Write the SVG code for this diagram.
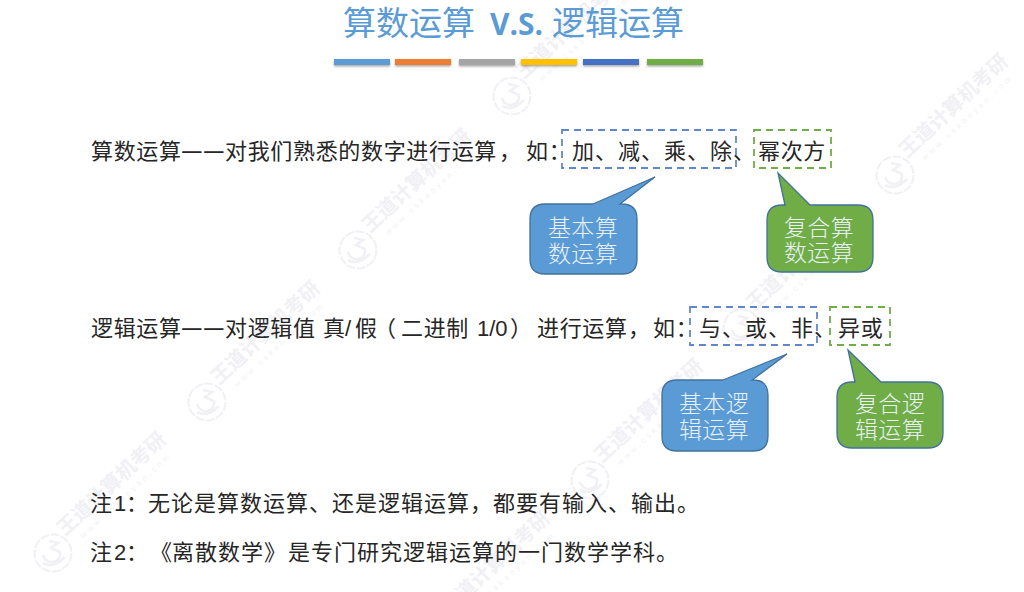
<svg xmlns="http://www.w3.org/2000/svg" width="1024" height="592" viewBox="0 0 1024 592">
<style>
text{font-family:"Noto Sans CJK SC","Noto Sans",sans-serif;text-spacing-trim:space-all;font-feature-settings:"palt" 0}
.t{font-size:22px;fill:#262626;letter-spacing:.67px}
.n{font-size:22px;fill:#262626;letter-spacing:1px}
.d{font-size:24px;font-weight:500;letter-spacing:0}
.l{font-family:"Liberation Sans",sans-serif;letter-spacing:0}
.c{font-size:23px;fill:#e8f1f8;text-anchor:middle;letter-spacing:.3px;font-weight:300}
.h{font-size:33px;fill:#5b9bd5}
.wm{font-size:20px;font-weight:700;fill:#f0f0f5}
.wu{font-size:8px;fill:#f2f2f6;letter-spacing:3.2px;font-family:"Liberation Sans",sans-serif}
.ws{fill:none;stroke:#f0f0f5}
.bl{fill:none;stroke:#4472c4;stroke-width:1.8;stroke-dasharray:7 5;stroke-opacity:.85}
.gr{fill:none;stroke:#70ad47;stroke-width:1.8;stroke-dasharray:7 5}
.cb{fill:#5b9bd5;stroke:#41719c;stroke-width:1.3}
.cg{fill:#70ad47;stroke:#41719c;stroke-width:1.3}
</style>
<defs>
<g id="mark">
<circle class="ws" r="18.5" stroke-width="2" stroke-dasharray="9 1.5"/>
<path class="ws" d="M-4-12L5-10L-2-5L7-1Q8 8-1 9Q-8 9-10 2M-10 10Q0 16 12 4" stroke-width="2.5"/>
<g transform="rotate(-43)"><text class="wm" x="20" y="-4">王道计算机考研</text><text class="wu" x="32" y="10">www.cskaoyan.com</text></g>
</g>
<filter id="sh" x="-5%" y="-50%" width="110%" height="250%"><feDropShadow dx="0" dy="1.5" stdDeviation="1" flood-color="#000" flood-opacity=".35"/></filter>
</defs>
<rect width="1024" height="592" fill="#fff"/>
<g id="watermarks">
<use href="#mark" x="53" y="553"/><use href="#mark" x="207" y="402"/><use href="#mark" x="358" y="250"/><use href="#mark" x="512" y="96"/>
<use href="#mark" x="437" y="632"/><use href="#mark" x="590" y="480"/><use href="#mark" x="742" y="328"/><use href="#mark" x="895" y="175"/>
</g>
<g id="title">
<text class="h" x="343" y="35">算数运算</text>
<text x="490" y="35" font-size="30" font-weight="700" fill="#5b9bd5" style="font-family:'Open Sans','Noto Sans',sans-serif">V.S.</text>
<text class="h" x="552" y="35">逻辑运算</text>
<g filter="url(#sh)">
<rect x="334" y="59" width="56" height="6" fill="#5b9bd5"/>
<rect x="395" y="59" width="56" height="6" fill="#ed7d31"/>
<rect x="459" y="59" width="56" height="6" fill="#a5a5a5"/>
<rect x="521" y="59" width="56" height="6" fill="#ffc000"/>
<rect x="583" y="59" width="56" height="6" fill="#4472c4"/>
<rect x="647" y="59" width="56" height="6" fill="#70ad47"/>
</g>
</g>
<g id="line1">
<text class="t" y="159"><tspan x="91">算数运算</tspan><tspan class="d" x="181">—</tspan><tspan class="d" x="203">—</tspan><tspan x="225">对我们熟悉的数字进行运算</tspan><tspan x="499">，</tspan><tspan x="526">如：</tspan></text>
<text class="n" x="572" y="159">加、减、乘、除、</text>
<text class="t" x="758" y="159">幂次方</text>
</g>
<g id="line2">
<text class="t" y="336"><tspan x="91">逻辑运算</tspan><tspan class="d" x="181">—</tspan><tspan class="d" x="203">—</tspan><tspan x="225">对逻辑值</tspan><tspan x="323">真</tspan><tspan class="l" x="345">/</tspan><tspan x="355">假</tspan><tspan x="374">（</tspan><tspan x="401">二进制</tspan><tspan class="l" x="477">1/0</tspan><tspan x="510">）</tspan><tspan x="537">进行运算</tspan><tspan x="628">，</tspan><tspan x="653">如：</tspan></text>
<text class="n" x="699" y="336">与、或、非、</text>
<text class="t" x="838" y="336">异或</text>
</g>
<g id="box-basic-arith"><rect class="bl" x="562" y="130" width="174" height="38"/></g>
<g id="box-comp-arith"><rect class="gr" x="754" y="130" width="77" height="38"/></g>
<g id="box-basic-logic"><rect class="bl" x="690" y="307" width="127" height="38"/></g>
<g id="box-comp-logic"><rect class="gr" x="830" y="307" width="60" height="38"/></g>
<g id="callout-basic-arith">
<path class="cb" d="M593 204L655 177L620 204H622Q637 204 637 219V259Q637 274 622 274H545Q530 274 530 259V219Q530 204 545 204Z"/>
<text class="c"><tspan x="583" y="236">基本算</tspan><tspan x="583" y="262">数运算</tspan></text>
</g>
<g id="callout-comp-arith">
<path class="cg" d="M785 205L778 173L810 205H858Q873 205 873 220V257Q873 272 858 272H782Q767 272 767 257V220Q767 205 782 205Z"/>
<text class="c"><tspan x="819" y="236">复合算</tspan><tspan x="819" y="261">数运算</tspan></text>
</g>
<g id="callout-basic-logic">
<path class="cb" d="M723 380L787 354L752 380H753Q768 380 768 395V436Q768 451 753 451H677Q662 451 662 436V395Q662 380 677 380Z"/>
<text class="c"><tspan x="714" y="412">基本逻</tspan><tspan x="714" y="438">辑运算</tspan></text>
</g>
<g id="callout-comp-logic">
<path class="cg" d="M855 382L848 350L881 382H928Q943 382 943 397V433Q943 448 928 448H852Q837 448 837 433V397Q837 382 852 382Z"/>
<text class="c"><tspan x="890" y="412">复合逻</tspan><tspan x="890" y="438">辑运算</tspan></text>
</g>
<g id="notes">
<text class="n" y="511"><tspan x="90">注</tspan><tspan class="l" x="114">1</tspan><tspan x="126">：</tspan><tspan x="148">无论是算数运算、还是逻辑运算，都要有输入、输出。</tspan></text>
<text class="n" y="560"><tspan x="90">注</tspan><tspan class="l" x="114">2</tspan><tspan x="126">：</tspan><tspan x="150">《</tspan><tspan x="172">离散数学</tspan><tspan x="264">》</tspan><tspan x="288">是专门研究逻辑运算的一门数学学科。</tspan></text>
</g>
</svg>
